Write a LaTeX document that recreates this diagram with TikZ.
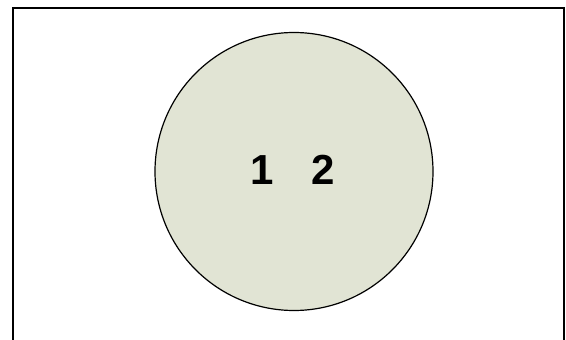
\documentclass[tikz,border=0pt]{standalone}
\usepackage{fontspec}
\setmainfont{Liberation Sans}
\definecolor{setfill}{RGB}{225,228,212}

\begin{document}
\begin{tikzpicture}[
			x=1pt, y=1pt,
			frame/.style={line width=2pt},
			set/.style={circle, draw, fill=setfill, line width=1.2pt,
				minimum size=278pt, inner sep=0pt},
			elem/.style={inner sep=0pt, font=\fontsize{42}{42}\selectfont\bfseries}
			]
			\useasboundingbox (0,0) rectangle (566,340);
			\draw[frame] (13,-5) rectangle (564,332);
			\node[set] (A) at (294,168.5) {};
			\node[elem] (one) at (262.5,170) {1};
			\node[elem] (two) at (323.5,170) {2};
		\end{tikzpicture}
\end{document}
